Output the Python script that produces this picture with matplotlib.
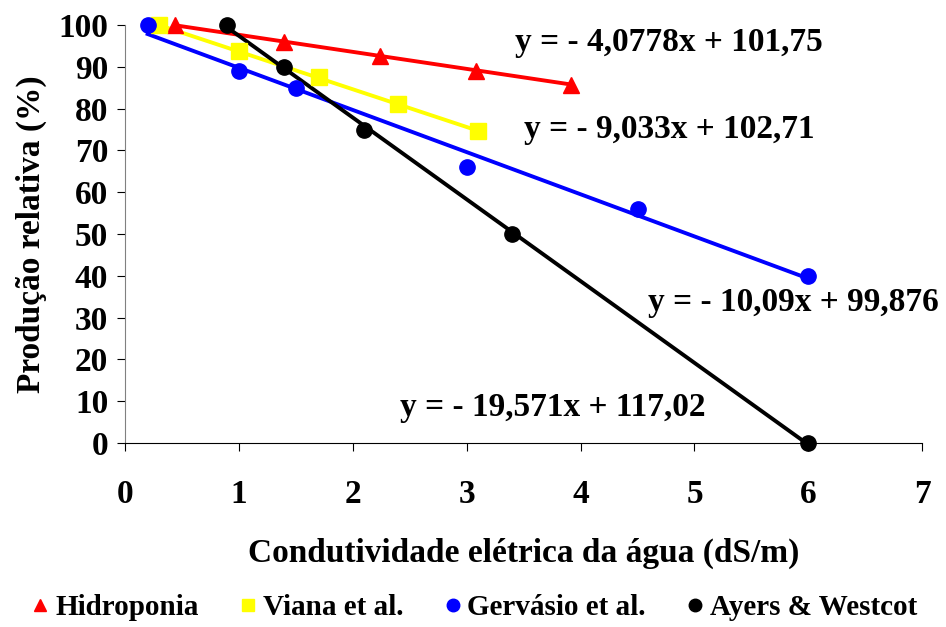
import numpy as np
import matplotlib
matplotlib.use('Agg')
import matplotlib.pyplot as plt
from matplotlib.lines import Line2D

# Data
hid_x = [0.44, 1.40, 2.24, 3.08, 3.92]
hid_y = [100.0, 96.0, 92.6, 89.0, 85.6]
via_x = [0.3, 1.0, 1.7, 2.4, 3.1]
via_y = [100.0, 93.8, 87.6, 81.0, 74.6]
ger_x = [0.2, 1.0, 1.5, 3.0, 4.5, 6.0]
ger_y = [100.0, 89.0, 85.0, 66.0, 56.0, 40.0]
ay_x = [0.9, 1.4, 2.1, 3.4, 6.0]
ay_y = [100.0, 90.0, 75.0, 50.0, 0.0]

labels = ['Hidroponia', 'Viana et al.', 'Gervásio et al.', 'Ayers & Westcot']
slopes = [-4.0778, -9.033, -10.09, -19.571]
intercepts = [101.75, 102.71, 99.876, 117.02]
eq_texts = ['y = - 4,0778x + 101,75', 'y = - 9,033x + 102,71',
            'y = - 10,09x + 99,876', 'y = - 19,571x + 117,02']

plt.rcParams['font.family'] = 'Liberation Serif'
plt.rcParams['font.weight'] = 'bold'

fig = plt.figure(figsize=(9.46, 6.27), dpi=100)
ax = fig.add_axes([0.132, 0.2935, 0.843, 0.6665])

series = [(hid_x, hid_y, 'red', '^', 12),
          (via_x, via_y, '#FFFF00', 's', 11),
          (ger_x, ger_y, 'blue', 'o', 11),
          (ay_x, ay_y, 'black', 'o', 11)]

for (xs, ys, c, m, ms), a, b in zip(series, slopes, intercepts):
    xl = np.array([min(xs), max(xs)])
    ax.plot(xl, a * xl + b, color=c, lw=2.8, zorder=2, clip_on=False)
    ax.plot(xs, ys, linestyle='none', marker=m, color=c, markersize=ms,
            zorder=3, clip_on=False)

ax.set_xlim(0, 7)
ax.set_ylim(0, 100)
ax.set_xticks(range(0, 8))
ax.set_yticks(range(0, 101, 10))
ax.tick_params(axis='x', labelsize=24, pad=20, length=6, direction='out')
ax.tick_params(axis='y', labelsize=24, pad=6, length=6, direction='out')
for t in ax.get_xticklabels() + ax.get_yticklabels():
    t.set_fontweight('bold')

ax.spines['top'].set_visible(False)
ax.spines['right'].set_visible(False)
ax.spines['left'].set_color('#808080')

ax.set_xlabel('Condutividade elétrica da água (dS/m)', fontsize=24,
              fontweight='bold', labelpad=20)
ax.set_ylabel('Produção relativa (%)', fontsize=24, fontweight='bold', labelpad=8)

eq_pos = [(3.425, 95.9), (3.50, 74.9), (4.59, 33.5), (2.415, 8.4)]
for (ex, ey), txt in zip(eq_pos, eq_texts):
    ax.text(ex, ey, txt, fontsize=24, fontweight='bold', ha='left', va='center')

handles = [Line2D([], [], linestyle='none', marker=m, color=c, markersize=9)
           for (_, _, c, m, _) in series]
fig.legend(handles, labels, loc='lower center', ncol=4, frameon=False,
           bbox_to_anchor=(0.5, -0.032), handletextpad=0.1,
           columnspacing=1.3, handlelength=0.8, prop={'weight': 'bold', 'size': 21})

fig.savefig('out.png', dpi=100)
